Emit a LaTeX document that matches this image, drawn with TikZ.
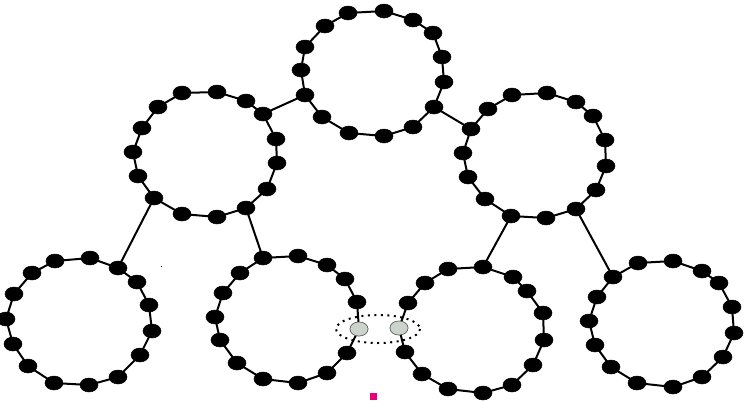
\documentclass[tikz,border=0pt]{standalone}
\usetikzlibrary{shapes.geometric}
\definecolor{beadgray}{RGB}{204,211,205}
\definecolor{pinkmark}{RGB}{230,0,126}
\tikzset{
  bead/.style={ellipse, fill=black, draw=black, line width=0.5pt, minimum width=18pt, minimum height=14pt, inner sep=0pt},
  graybead/.style={ellipse, fill=beadgray, draw=black!60, line width=0.5pt, minimum width=18pt, minimum height=14pt, inner sep=0pt},
  ring/.style={line width=2pt, black},
  link/.style={line width=2pt, black},
  dotring/.style={line width=2pt, dash pattern=on 2pt off 4.5pt, black}
}
\begin{document}
\begin{tikzpicture}[x=1pt,y=-1pt]
\useasboundingbox (0,0) rectangle (747,400);
% bead coordinates
\foreach \x/\y [count=\i] in {384/11,413/20,433/33,442/57,444/82,434/107,413/127,384/136,349/133,322/117,305/95,301/70,305/47,325/26,348/13}
  \coordinate (cT\i) at (\x,\y);
\foreach \x/\y [count=\i] in {182/93,217/92,246/101,263/114,276/139,277/163,267/189,246/208,217/217,182/214,154/198,138/176,133/152,142/128,158/107}
  \coordinate (cTL\i) at (\x,\y);
\foreach \x/\y [count=\i] in {512/95,547/93,576/102,593/116,605/140,606/166,596/190,576/209,546/218,511/216,485/199,468/177,463/153,471/129,488/109}
  \coordinate (cTR\i) at (\x,\y);
\foreach \x/\y [count=\i] in {55/261,90/258,118/268,137/282,149/305,152/331,140/355,118/377,89/385,54/383,28/366,13/344,6/319,14/294,32/273}
  \coordinate (cBL\i) at (\x,\y);
\foreach \x/\y [count=\i] in {263/258,298/256,327/265,345/279,357/302,359/329,347/353,327/373,298/383,263/379,237/363,220/340,215/317,223/293,240/273}
  \coordinate (cBML\i) at (\x,\y);
\foreach \x/\y [count=\i] in {483/267,513/277,527/291,543/313,544/340,533/365,512/385,483/393,448/389,422/374,405/352,399/328,408/303,425/283,448/269}
  \coordinate (cBMR\i) at (\x,\y);
\foreach \x/\y [count=\i] in {613/277,638/263,673/261,702/271,719/283,732/307,734/333,723/357,702/377,673/387,637/383,611/367,595/345,589/321,597/297}
  \coordinate (cBR\i) at (\x,\y);
% dotted ellipse around the two joining beads
\coordinate (joint) at (378,329);
\draw[dotring] (joint) ellipse [x radius=42, y radius=14];
% ring chains
\foreach \r in {T,TL,TR,BL,BML,BMR,BR}{
  \foreach \i [remember=\i as \j (initially 15)] in {1,...,15}
    \draw[ring] (c\r\j) -- (c\r\i);
}
% links between rings
\draw[link] (cT11) -- (cTL4);
\draw[link] (cT6) -- (cTR14);
\draw[link] (cTL11) -- (cBL3);
\draw[link] (cTL8) -- (cBML1);
\draw[link] (cTR10) -- (cBMR1);
\draw[link] (cTR8) -- (cBR1);
% beads
\foreach \r in {T,TL,TR,BL,BML,BMR,BR}{
  \foreach \i in {1,...,15}
    \node[bead] (\r\i) at (c\r\i) {};
}
\node[graybead] (BML6) at (cBML6) {};
\node[graybead] (BMR12) at (cBMR12) {};
% small marks
\fill[pinkmark] (370,393) rectangle (377,400);
\fill[black] (160.5,265.5) rectangle (161.5,266.5);
\end{tikzpicture}
\end{document}
